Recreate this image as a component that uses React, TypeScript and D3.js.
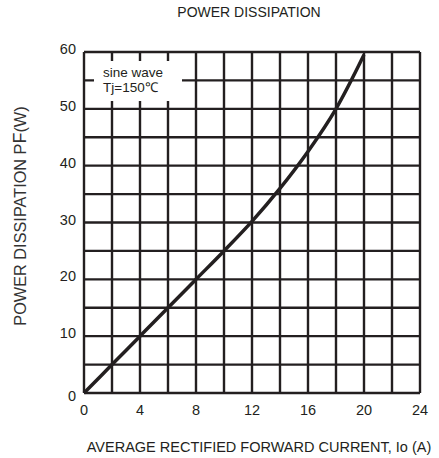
import React, { useEffect, useRef } from 'react';
import * as d3 from 'd3';

// Io (A) vs PF (W), sine wave, Tj=150C
const current = [0, 2, 4, 6, 8, 10, 12, 14, 16, 18, 20];
const power = [0, 5, 10, 15, 20, 25, 30.2, 36, 42.5, 50, 59.5];

const xTicks = [0, 4, 8, 12, 16, 20, 24];
const yTicks = [0, 10, 20, 30, 40, 50, 60];
const xGrid = d3.range(0, 25, 2);
const yGrid = d3.range(0, 61, 5);

const W = 439;
const H = 458;
const margin = { top: 52, right: 19, bottom: 65, left: 84 };
const font = '"Liberation Sans", Arial, Helvetica, sans-serif';
const ink = '#231f20';

const App: React.FC = () => {
  const svgRef = useRef<SVGSVGElement>(null);

  useEffect(() => {
    if (!svgRef.current) return;
    const svg = d3.select(svgRef.current);
    svg.selectAll('*').remove();

    const x = d3.scaleLinear().domain([0, 24]).range([margin.left, W - margin.right]);
    const y = d3.scaleLinear().domain([0, 60]).range([H - margin.bottom, margin.top]);

    svg.append('rect').attr('width', W).attr('height', H).attr('fill', '#fff');

    // grid
    const grid = svg.append('g').attr('stroke', ink).attr('stroke-width', 2.4);
    grid.selectAll('line.v')
      .data(xGrid)
      .enter()
      .append('line')
      .attr('x1', d => x(d)).attr('x2', d => x(d))
      .attr('y1', y(0)).attr('y2', y(60));
    grid.selectAll('line.h')
      .data(yGrid)
      .enter()
      .append('line')
      .attr('y1', d => y(d)).attr('y2', d => y(d))
      .attr('x1', x(0)).attr('x2', x(24));

    // legend box knocks out the grid
    svg.append('rect')
      .attr('x', x(0) + 10)
      .attr('y', y(60) + 9)
      .attr('width', 88)
      .attr('height', 40)
      .attr('fill', '#fff');
    svg.append('text')
      .attr('x', x(0) + 19).attr('y', y(60) + 25)
      .attr('font-family', font).attr('font-size', 13.5).attr('fill', ink)
      .text('sine wave');
    svg.append('text')
      .attr('x', x(0) + 19).attr('y', y(60) + 40)
      .attr('font-family', font).attr('font-size', 13.5).attr('fill', ink)
      .text('Tj=150℃');

    // curve
    const pts = current.map((c, i) => [c, power[i]] as [number, number]);
    const line = d3.line<[number, number]>()
      .x(d => x(d[0]))
      .y(d => y(d[1]))
      .curve(d3.curveCatmullRom.alpha(0.5));
    svg.append('path')
      .attr('d', line(pts) || '')
      .attr('fill', 'none')
      .attr('stroke', ink)
      .attr('stroke-width', 3.5);

    // tick labels
    svg.selectAll('text.xt')
      .data(xTicks)
      .enter()
      .append('text')
      .attr('x', d => x(d))
      .attr('y', y(0) + 22)
      .attr('text-anchor', 'middle')
      .attr('font-family', font).attr('font-size', 14.5).attr('fill', ink)
      .text(d => d);
    svg.selectAll('text.yt')
      .data(yTicks)
      .enter()
      .append('text')
      .attr('x', x(0) - 8)
      .attr('y', d => y(d) + (d === 0 ? 8 : 2))
      .attr('text-anchor', 'end')
      .attr('font-family', font).attr('font-size', 14.5).attr('fill', ink)
      .text(d => d);

    // titles
    svg.append('text')
      .attr('x', 249).attr('y', 17)
      .attr('text-anchor', 'middle')
      .attr('font-family', font).attr('font-size', 14).attr('fill', ink)
      .text('POWER DISSIPATION');
    svg.append('text')
      .attr('x', 259).attr('y', 452)
      .attr('text-anchor', 'middle')
      .attr('font-family', font).attr('font-size', 14.5).attr('fill', ink)
      .text('AVERAGE RECTIFIED FORWARD CURRENT, Io (A)');

    const yl = svg.append('text')
      .attr('transform', 'translate(26, 216) rotate(-90)')
      .attr('text-anchor', 'middle')
      .attr('font-family', font).attr('font-size', 16.3).attr('fill', '#333');
    yl.append('tspan').text('POWER DISSIPATION P');
    yl.append('tspan').attr('font-size', 18).text('F');
    yl.append('tspan').text('(W)');
  }, []);

  return (
    <svg
      ref={svgRef}
      width={W}
      height={H}
      viewBox={`0 0 ${W} ${H}`}
      style={{ position: 'absolute', left: 0, top: 0 }}
    />
  );
};

export default App;
